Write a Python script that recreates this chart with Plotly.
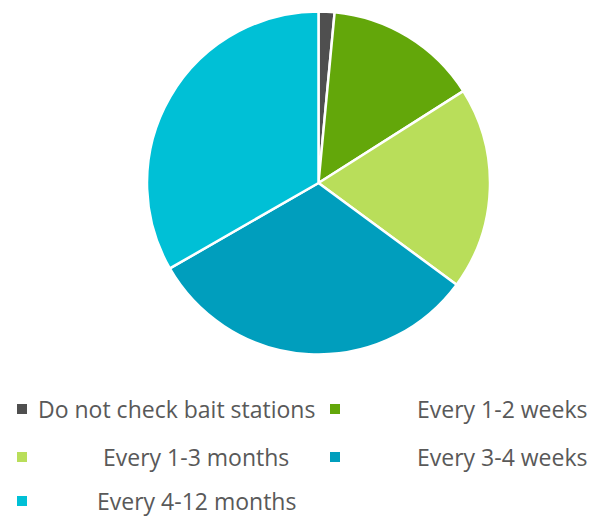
import plotly.graph_objects as go

labels = ["Do not check bait stations", "Every 1-2 weeks", "Every 1-3 months",
          "Every 3-4 weeks", "Every 4-12 months"]
values = [1.5, 14.5, 19.1, 31.6, 33.3]
colors = ["#4f4f4f", "#63a70a", "#b9de5a", "#009ebd", "#00c0d6"]

W, H = 594, 518

fig = go.Figure(go.Pie(
    labels=labels, values=values, sort=False, direction="clockwise", rotation=0,
    marker=dict(colors=colors, line=dict(color="white", width=2.5)),
    textinfo="none", hoverinfo="label+percent", showlegend=False,
    domain=dict(x=[147 / W, 490 / W], y=[1 - 354.5 / H, 1 - 11.5 / H]),
))

# legend laid out like the reference (two columns, text positioned per entry)
legend_pos = [
    # (marker x, marker y, text x, anchor)
    (22, 409, 36, "left"),
    (335, 409, 589, "right"),
    (22, 457, 196, "center"),
    (335, 457, 589, "right"),
    (22, 501, 196, "center"),
]
shapes = []
annotations = []
for (mx, my, tx, anc), lab, col in zip(legend_pos, labels, colors):
    shapes.append(dict(type="rect", xref="paper", yref="paper",
                       x0=(mx - 5) / W, x1=(mx + 5) / W,
                       y0=1 - (my + 5) / H, y1=1 - (my - 5) / H,
                       fillcolor=col, line=dict(width=0)))
    annotations.append(dict(text=lab, xref="paper", yref="paper",
                            x=tx / W, y=1 - my / H, xanchor=anc, yanchor="middle",
                            showarrow=False,
                            font=dict(family="Open Sans", size=23, color="#595959")))

fig.update_layout(
    width=W, height=H, margin=dict(l=0, r=0, t=0, b=0),
    paper_bgcolor="white", plot_bgcolor="white",
    shapes=shapes, annotations=annotations,
)
fig.write_html("out.html", config={"displayModeBar": False},
               post_script="document.body.style.margin='0';")
